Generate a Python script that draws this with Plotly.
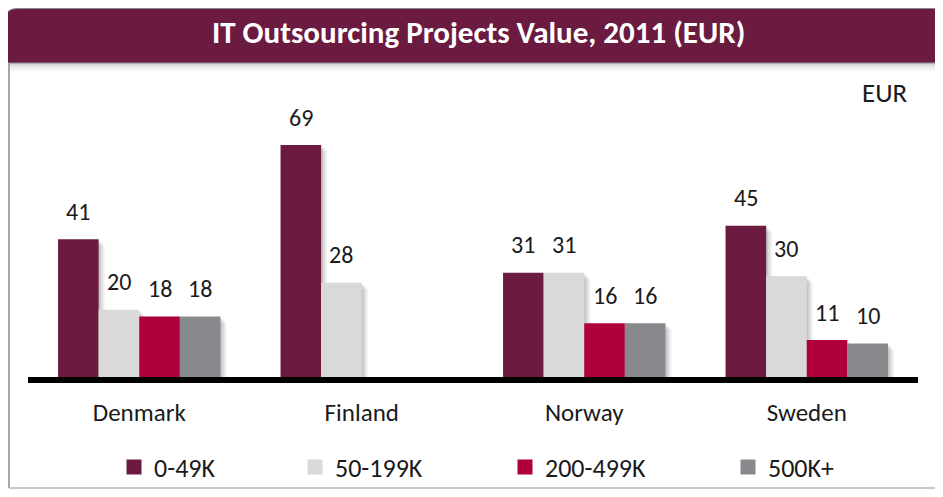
import plotly.graph_objects as go

# ---- data ----
countries = ["Denmark", "Finland", "Norway", "Sweden"]
series_names = ["0-49K", "50-199K", "200-499K", "500K+"]
v_0_49k = [41, 69, 31, 45]
v_50_199k = [20, 28, 31, 30]
v_200_499k = [18, None, 16, 11]
v_500k = [18, None, 16, 10]
series_values = [v_0_49k, v_50_199k, v_200_499k, v_500k]
colors = ["#6B1A40", "#D9D9D9", "#B0003A", "#87898C"]

title_text = "IT Outsourcing Projects Value, 2011 (EUR)"
unit_text = "EUR"

FONT = "Carlito, Calibri, 'Liberation Sans Narrow', 'DejaVu Sans Condensed', 'Open Sans', sans-serif"

# ---- layout geometry (pixels; page body adds an 8px offset) ----
OFF = 8
W_FIG, H_FIG = 935, 481
L, R, T, B = 20, 25, 92, 112
PW = W_FIG - L - R
PH = H_FIG - T - B
YMAX = 82.4
BARGAP = 0.27
n = len(series_names)
BW = (1 - BARGAP) / n            # bar width in category units
SH_DX = 4 / PW * len(countries)  # shadow shift in category units
SH_DY = 2 * YMAX / PH


def px(x):
    return (x - OFF - L) / PW


def py(y):
    return (OFF + T + PH - y) / PH


def cx(x):
    return (x - OFF) / W_FIG


def cy(y):
    return 1 - (y - OFF) / H_FIG


fig = go.Figure()

# soft shadows behind bars
for i, vals in enumerate(series_values):
    off = -(1 - BARGAP) / 2 + i * BW
    for k, op in enumerate([0.10, 0.08, 0.06]):
        fig.add_trace(go.Bar(
            x=countries, y=[None if v is None else v - SH_DY * (k + 1) for v in vals],
            width=BW, offset=off + SH_DX * (k + 1) / 2,
            marker=dict(color=f"rgba(0,0,0,{op})", line=dict(width=0)),
            showlegend=False, hoverinfo="skip",
        ))

# main bars
for i, (name, vals, col) in enumerate(zip(series_names, series_values, colors)):
    off = -(1 - BARGAP) / 2 + i * BW
    fig.add_trace(go.Bar(
        x=countries, y=vals, name=name, width=BW, offset=off,
        marker=dict(color=col, line=dict(width=0)),
        showlegend=False, hoverinfo="x+y+name",
    ))

# legend proxies (square markers)
legend_ids = ["legend", "legend2", "legend3", "legend4"]
for name, col, lid in zip(series_names, colors, legend_ids):
    fig.add_trace(go.Scatter(
        x=[None], y=[None], mode="markers", name=name, legend=lid,
        marker=dict(symbol="square", size=15, color=col, line=dict(width=0)),
        showlegend=True, hoverinfo="skip",
    ))

# value labels above bars
cat_w = PW / len(countries)
annotations = []
for i, vals in enumerate(series_values):
    for c, v in zip(countries, vals):
        if v is None:
            continue
        annotations.append(dict(
            x=c, y=v, xref="x", yref="y", text=str(v), showarrow=False,
            xshift=(i - (n - 1) / 2) * BW * cat_w, yshift=28, yanchor="middle",
            font=dict(family=FONT, size=24, color="#1a1a1a"),
        ))

# title and unit text
annotations.append(dict(
    x=px(478), y=py(32), xref="paper", yref="paper", text="<b>" + title_text + "</b>",
    showarrow=False, font=dict(family=FONT, size=31, color="white"),
    xanchor="center", yanchor="middle",
))
annotations.append(dict(
    x=px(885), y=py(92), xref="paper", yref="paper", text=unit_text,
    showarrow=False, font=dict(family=FONT, size=27, color="#1a1a1a"),
    xanchor="center", yanchor="middle",
))

# banner with rounded top-left corner
bx0, bx1, by0, by1 = px(5), px(960), py(8.5), py(63)
rx, ry = 12 / PW, 12 / PH
banner_path = (f"M {bx0},{by1} L {bx0},{by0 - ry} Q {bx0},{by0} {bx0 + rx},{by0} "
               f"L {bx1},{by0} L {bx1},{by1} Z")
shapes = []
for k, op in enumerate([0.35, 0.22, 0.12, 0.06]):
    shapes.append(dict(type="rect", xref="paper", yref="paper",
                       x0=px(9), x1=px(960), y0=py(63 + 2 * k), y1=py(65 + 2 * k),
                       fillcolor="#7f7f7f", opacity=op, line=dict(width=0), layer="below"))
shapes.append(dict(type="path", path=banner_path, xref="paper", yref="paper",
                   fillcolor="#6B1A40", line=dict(color="#8c8c8c", width=1), layer="above"))
# frame lines
shapes.append(dict(type="line", xref="paper", yref="paper", x0=px(9), x1=px(9),
                   y0=py(63), y1=py(488), line=dict(color="#a6a6a6", width=2)))
shapes.append(dict(type="line", xref="paper", yref="paper", x0=px(9), x1=px(960),
                   y0=py(488), y1=py(488), line=dict(color="#c8c8c8", width=2)))

legend_x = [128, 309, 519, 742]
legends = {}
for lid, lx in zip(legend_ids, legend_x):
    legends[lid] = dict(
        x=cx(lx - 14), y=cy(467), xref="container", yref="container",
        xanchor="left", yanchor="middle",
        orientation="h", bgcolor="rgba(0,0,0,0)", borderwidth=0,
        font=dict(family=FONT, size=26, color="#1a1a1a"), itemwidth=30,
    )

fig.update_layout(
    width=W_FIG, height=H_FIG,
    margin=dict(l=L, r=R, t=T, b=B, pad=0, autoexpand=False),
    paper_bgcolor="white", plot_bgcolor="white",
    barmode="overlay",
    xaxis=dict(range=[-0.5, len(countries) - 0.5], showline=True, linecolor="black",
               linewidth=6, ticks="", automargin=False,
               tickfont=dict(family=FONT, size=25, color="#1a1a1a"),
               ticklabelstandoff=8, showgrid=False, zeroline=False, fixedrange=True),
    yaxis=dict(range=[0, YMAX], visible=False, showgrid=False, zeroline=False,
               fixedrange=True, automargin=False),
    annotations=annotations,
    shapes=shapes,
    showlegend=True,
    **legends,
)

fig.write_html("out.html")
